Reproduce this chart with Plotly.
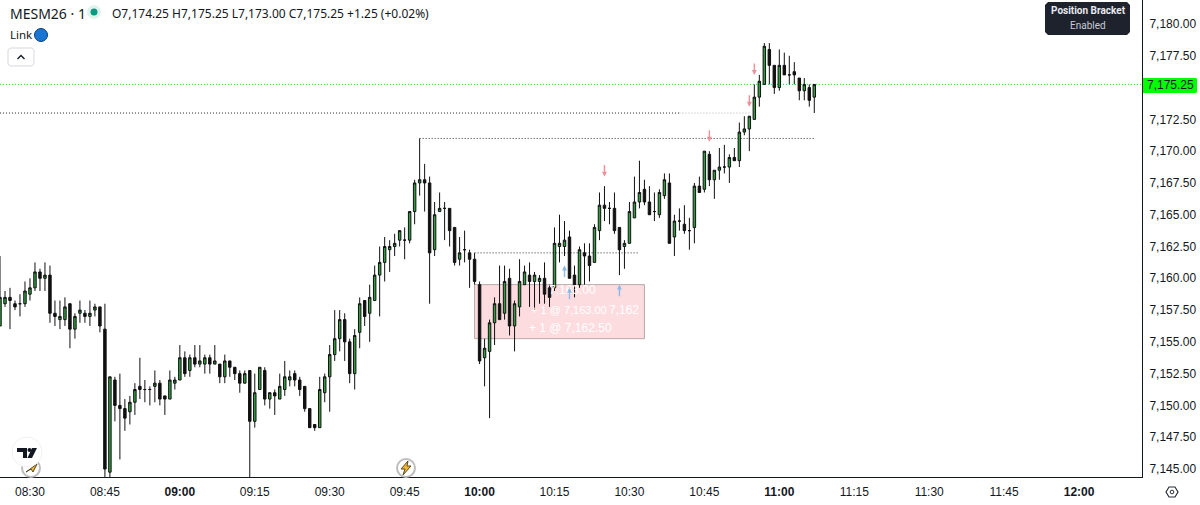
import pandas as pd
import plotly.graph_objects as go

# one candle per minute, starts 08:24
opens = [
    7156.25, 7158, 7158.5, 7158, 7158, 7158, 7158.75, 7159.25, 7160.5, 7160,
    7160.25, 7157.25, 7156.75, 7156.75, 7158, 7156, 7157.25, 7157.25, 7157, 7157.5,
    7157.75, 7156, 7144.75, 7152, 7150, 7149.75, 7149.5, 7150.25, 7151.5, 7151.25,
    7151.25, 7151.5, 7151.75, 7150.75, 7150.5, 7151.75, 7152, 7153.75, 7152.75, 7153.75,
    7153.25, 7153.25, 7153.75, 7153.25, 7153.25, 7152.25, 7153.5, 7153, 7152.5, 7151.75,
    7152.75, 7148.75, 7151.25, 7152.75, 7150.5, 7151, 7150.5, 7151.25, 7152, 7152.5,
    7152, 7151.5, 7149.75, 7148.5, 7148.25, 7151, 7152.25, 7154, 7155.25, 7156.75,
    7155, 7152.5, 7155.75, 7158.25, 7157.25, 7158.25, 7160.25, 7161.25, 7162.25, 7162.5,
    7163, 7163, 7163, 7165.25, 7167.5, 7167.75, 7167.5, 7162.25, 7165.25, 7165.5,
    7165.5, 7164, 7161.5, 7162.25, 7162, 7161.5, 7159.5, 7153.75, 7154.25, 7156.5,
    7158, 7157.25, 7160, 7156.25, 7157.75, 7159.5, 7160.25, 7159.75, 7159.75, 7160,
    7159.25, 7159.25, 7162.5, 7162.5, 7163.25, 7160.25, 7159.5, 7162, 7161.75, 7161.25,
    7163.75, 7165.75, 7165.5, 7165.5, 7164, 7162.5, 7162.75, 7164.75, 7166, 7167,
    7166, 7165.25, 7165, 7166.5, 7167.5, 7163.25, 7164.5, 7164.25, 7163.75, 7164,
    7167.25, 7167, 7169.75, 7167.75, 7168.5, 7168.75, 7168.75, 7169.5, 7169.25, 7171.5,
    7171.75, 7172.5, 7174.25, 7175.25, 7178, 7176.75, 7175, 7176.75, 7176, 7176.25,
    7175.75, 7174.75, 7175, 7174.25,
]
highs = [
    7161.75, 7159, 7159.25, 7158.25, 7158.75, 7159.75, 7160, 7161.25, 7160.75, 7161.25,
    7161, 7158.25, 7158.25, 7158.5, 7158, 7157.25, 7158.25, 7157.5, 7158.25, 7158,
    7157.75, 7158, 7152.25, 7152.25, 7152.5, 7150.5, 7150.75, 7151.75, 7153.75, 7152,
    7151.5, 7152.75, 7152, 7150.75, 7152.75, 7152.25, 7154.75, 7154.25, 7154, 7154.75,
    7154.75, 7154, 7154, 7154.75, 7153.25, 7154, 7153.5, 7153, 7152.75, 7152.75,
    7152.75, 7152.5, 7153, 7153, 7151, 7151.25, 7152.5, 7153.5, 7152.75, 7152.75,
    7152.25, 7151.5, 7149.75, 7148.5, 7152.25, 7152.5, 7154.75, 7157.5, 7157.5, 7157.25,
    7155.25, 7156, 7158.5, 7158.25, 7159.5, 7161, 7162.5, 7163.25, 7163, 7163.5,
    7163.75, 7164, 7165.25, 7167.75, 7171, 7169, 7168, 7166, 7166.75, 7166,
    7165.5, 7164, 7163.25, 7163.75, 7162.25, 7162, 7159.75, 7155.25, 7156.75, 7158.5,
    7161, 7161, 7160.75, 7158.25, 7161.5, 7161, 7161.25, 7160.5, 7160.25, 7161.25,
    7159.5, 7164, 7165, 7164.5, 7163.75, 7161, 7162.5, 7162.75, 7162.75, 7164.25,
    7166.75, 7167.25, 7166, 7166.75, 7164, 7163, 7166, 7168, 7169.25, 7167.75,
    7167.25, 7166.75, 7167, 7168.25, 7168.25, 7165, 7165.5, 7165.75, 7164.75, 7167.5,
    7168, 7170, 7170, 7168.5, 7170.25, 7170.5, 7169.75, 7170.25, 7172.25, 7172.75,
    7172.75, 7175.25, 7176, 7178.5, 7178.5, 7176.75, 7178, 7177.75, 7177.5, 7177,
    7175.75, 7175.75, 7175.25, 7175.25,
]
lows = [
    7156.25, 7157.75, 7156, 7157.5, 7157, 7157.75, 7158.25, 7159, 7159, 7159,
    7156.5, 7156.25, 7156, 7156.25, 7154.5, 7155.25, 7156.5, 7156.5, 7156.25, 7157,
    7155.75, 7144.25, 7144.25, 7148.75, 7145.75, 7148, 7148.5, 7149.25, 7150.5, 7150.25,
    7150, 7150.25, 7150, 7149.25, 7150.5, 7151.25, 7152, 7152.25, 7152.25, 7153,
    7153, 7152.5, 7152.5, 7153.25, 7151.75, 7151.75, 7152.25, 7152, 7151, 7151.75,
    7144.25, 7148.25, 7151.25, 7150, 7149.75, 7149.25, 7150.5, 7150.75, 7151.5, 7151.5,
    7150.75, 7149.5, 7148.25, 7148, 7148.25, 7150.25, 7149.5, 7153.5, 7154.25, 7153.5,
    7151.75, 7151.25, 7154.5, 7156.25, 7155, 7158.25, 7157, 7159.75, 7160.5, 7161.75,
    7162.5, 7161.5, 7162.75, 7164.25, 7166.5, 7165.25, 7158, 7161.75, 7165.25, 7163,
    7162.5, 7161, 7161, 7161.25, 7159.25, 7159.5, 7153.25, 7151.5, 7149, 7154.75,
    7156.75, 7156.75, 7155.5, 7154.25, 7157, 7159.5, 7157.75, 7157.5, 7158, 7158,
    7157.75, 7159, 7161.25, 7161.75, 7160, 7158.5, 7159.25, 7159.5, 7159.75, 7161.25,
    7163, 7164.5, 7164.25, 7163.5, 7160.25, 7160.75, 7162.75, 7164.75, 7165.5, 7165.75,
    7165, 7164.5, 7164.75, 7166.25, 7162.75, 7161.75, 7163.75, 7163.5, 7162.25, 7162.75,
    7166.75, 7166.75, 7167.25, 7166.25, 7167.75, 7168.25, 7167.5, 7169.25, 7168.75, 7171.25,
    7170, 7172.5, 7173.5, 7175.25, 7175.25, 7174.5, 7174.75, 7176, 7175.25, 7175.25,
    7174, 7174, 7173.5, 7173,
]
closes = [
    7158.5, 7158.5, 7158.25, 7157.75, 7158, 7159, 7159.25, 7160.5, 7160, 7160.25,
    7157.25, 7157, 7157, 7157.75, 7156, 7157, 7157.5, 7157, 7157.25, 7157.75,
    7156.25, 7145, 7152.25, 7150, 7149.75, 7149, 7150.25, 7151.25, 7151.25, 7151.25,
    7151.25, 7151.75, 7150.5, 7150.5, 7152, 7152, 7153.75, 7152.5, 7153.75, 7153.25,
    7153.5, 7153.75, 7153.25, 7153.5, 7152.25, 7153.5, 7153, 7152.5, 7151.75, 7152.5,
    7148.75, 7151, 7153, 7150.5, 7151, 7150.75, 7151.5, 7152.25, 7152.25, 7152,
    7151.25, 7149.75, 7148.25, 7148.25, 7151.25, 7152.25, 7154, 7155.25, 7156.75, 7155,
    7152.5, 7155.5, 7158, 7157, 7158.5, 7160.25, 7161.25, 7162.5, 7162.5, 7162.75,
    7163.75, 7163, 7165.25, 7167.5, 7167.75, 7167.5, 7162, 7165, 7165.5, 7165.5,
    7163.75, 7161.25, 7162, 7162.25, 7161.5, 7159.75, 7153.5, 7154.5, 7156.5, 7158,
    7156.75, 7159.75, 7156.25, 7158, 7159.75, 7160.5, 7159.75, 7160.25, 7160, 7158.75,
    7158.5, 7162.75, 7162.75, 7163, 7160, 7159.5, 7162.25, 7161.75, 7161, 7164,
    7165.75, 7165.5, 7165.5, 7163.75, 7162.25, 7162.75, 7165.25, 7166, 7166.75, 7166,
    7165, 7165.25, 7166.75, 7167.75, 7162.75, 7164.5, 7164.5, 7163.75, 7163.75, 7167.25,
    7166.75, 7170, 7167.75, 7168.5, 7168.75, 7168.75, 7169.5, 7169.25, 7171.5, 7171.75,
    7172.75, 7174.25, 7175.5, 7178.25, 7176.75, 7175, 7176.75, 7176, 7176, 7176,
    7174.75, 7175.25, 7174, 7175.25,
]

price_ticks = [7180, 7177.5, 7172.5, 7170, 7167.5, 7165, 7162.5, 7160, 7157.5, 7155, 7152.5, 7150, 7147.5, 7145]
price_labels = ["7,180.00", "7,177.50", "7,172.50", "7,170.00", "7,167.50", "7,165.00", "7,162.50",
                "7,160.00", "7,157.50", "7,155.00", "7,152.50", "7,150.00", "7,147.50", "7,145.00"]
time_ticks = ["08:30", "08:45", "09:00", "09:15", "09:30", "09:45", "10:00", "10:15",
              "10:30", "10:45", "11:00", "11:15", "11:30", "11:45", "12:00"]
time_labels = ["08:30", "08:45", "<b>09:00</b>", "09:15", "09:30", "09:45", "<b>10:00</b>", "10:15",
               "10:30", "10:45", "<b>11:00</b>", "11:15", "11:30", "11:45", "<b>12:00</b>"]

last_price = 7175.25
sell_times = ["10:25", "10:46", "10:54", "10:55"]
sell_prices = [7168, 7170.75, 7173.5, 7176]
buy_times = ["10:17", "10:18", "10:28"]
buy_prices = [7161, 7159.25, 7159.5]

DAY = "2026-04-08 "
PLOT_W = 1142
PLOT_H = 477
times = pd.date_range(DAY + "08:24", periods=len(opens), freq="min")


def px(x):
    return x / PLOT_W


def py(y):
    return 1 - y / PLOT_H


def label(text, x, y, size=12, color="#131722", family="Noto Sans", anchor="left"):
    return dict(text=text, x=px(x), y=py(y), xref="paper", yref="paper", showarrow=False,
                xanchor=anchor, yanchor="middle", font=dict(size=size, color=color, family=family))


def icon(path, fill, line="rgba(0,0,0,0)", width=1):
    return dict(type="path", path=path, xref="paper", yref="paper", fillcolor=fill,
                line=dict(color=line, width=width), layer="above")


def poly(points, closed=True):
    path = "M" + " L".join(f"{px(x):.5f},{py(y):.5f}" for x, y in points)
    return path + " Z" if closed else path


def circle(cx, cy, r, fill, line="rgba(0,0,0,0)", width=1):
    return dict(type="circle", xref="paper", yref="paper", x0=px(cx - r), x1=px(cx + r),
                y0=py(cy + r), y1=py(cy - r), fillcolor=fill, line=dict(color=line, width=width), layer="above")


def level(start, end, price, color="#2a2e39"):
    return dict(type="line", x0=DAY + start, x1=DAY + end, y0=price, y1=price, layer="below",
                line=dict(color=color, width=1, dash="1px,2px"))


fig = go.Figure(go.Candlestick(
    x=times, open=opens, high=highs, low=lows, close=closes,
    increasing=dict(line=dict(color="#111111", width=1), fillcolor="#2f9e3f"),
    decreasing=dict(line=dict(color="#111111", width=1), fillcolor="#111111"),
    whiskerwidth=0, showlegend=False,
))

shapes = [
    dict(type="rect", x0=DAY + "09:59:00", x1=DAY + "10:33:00", y0=7155.25, y1=7159.5, layer="below",
         fillcolor="#fcdcdf", line=dict(color="#b8a8a8", width=1)),
    level("08:24", "10:40", 7173),
    level("10:40", "10:54", 7173, "#b5b5b5"),
    level("09:48", "11:07", 7171),
    level("09:59", "10:32", 7162),
    dict(type="line", x0=0, x1=1, xref="paper", y0=last_price, y1=last_price, layer="below",
         line=dict(color="#22e622", width=1, dash="1px,2px")),
    # position bracket badge
    icon(poly([(1048, 2), (1127, 2), (1130, 5), (1130, 32), (1127, 35), (1048, 35), (1045, 32), (1045, 5)]), "#1e222d"),
    icon(poly([(1143, 78), (1196, 78), (1197, 79), (1197, 92), (1196, 93), (1143, 93)]), "#00ff00"),
    # toolbar bits
    circle(94, 12, 7, "#dff3ee"),
    circle(94, 12, 3.5, "#089981"),
    circle(41, 35, 6.5, "#1976d2", "#0d3f7a"),
    icon(poly([(10, 48), (32, 48), (34, 50), (34, 64), (32, 66), (10, 66), (8, 64), (8, 50)]), "#ffffff", "#d6d8de"),
    icon(poly([(17.5, 59), (21, 55.5), (24.5, 59)], closed=False), "rgba(0,0,0,0)", "#131722", 1.3),
    # lightning + replay icons along the bottom
    circle(31, 468, 9, "#ffffff", "#bdbdbd", 2),
    icon(poly([(26, 472), (37, 464), (33, 472), (31, 469)]), "#f2b632", "#5a4a20"),
    circle(27, 452, 15, "#ffffff", "#f1f1f1"),
    icon(poly([(17, 448), (27, 448), (27, 458), (23, 458), (23, 452), (17, 452)]), "#131722"),
    circle(29.5, 450, 2, "#131722"),
    icon(poly([(32, 448), (37, 448), (32, 458), (27.5, 458)]), "#131722"),
    circle(406, 468, 9, "#ffffff", "#bdbdbd", 2),
    icon(poly([(408, 461), (401, 469), (405, 469), (403, 475), (411, 466), (407, 466)]), "#f2b632", "#5a4a20"),
    # settings
    icon(poly([(1166, 492), (1169, 487), (1175, 487), (1178, 492), (1175, 497), (1169, 497)]), "#ffffff", "#2a2e39", 1.2),
    circle(1172, 492, 1.8, "#ffffff", "#2a2e39", 1),
]

annotations = [
    label("MESM26 · 1", 8, 13, 14),
    label("O7,174.25 H7,175.25 L7,173.00 C7,175.25 +1.25 (+0.02%)", 110, 13, 12),
    label("Link", 8, 34, 11.5),
    label("<b>Position Bracket</b>", 1088, 11, 10, "#e8eaf0", "Roboto", "center"),
    label("Enabled", 1088, 25, 10, "#c8ccd6", "Roboto", "center"),
    label("7,175.25", 1170, 85.5, 12, "#131722", "Liberation Sans", "center"),
    label("7,163.00", 598, 290, 12, "#ffffff", "Liberation Sans", "right"),
    label("+ 1 @ 7,163.00", 529, 310, 11, "#ffffff", "Liberation Sans"),
    label("7,162", 641, 310, 12, "#ffffff", "Liberation Sans", "right"),
    label("+ 1 @ 7,162.50", 527, 328, 12, "#ffffff", "Liberation Sans"),
]
for t, p in zip(sell_times, sell_prices):
    annotations.append(dict(x=DAY + t, y=p, ax=0, ay=-13, xref="x", yref="y", text="", showarrow=True,
                            arrowhead=2, arrowsize=0.7, arrowwidth=1.4, arrowcolor="#ee8f9a"))
for t, p in zip(buy_times, buy_prices):
    annotations.append(dict(x=DAY + t, y=p, ax=0, ay=13, xref="x", yref="y", text="", showarrow=True,
                            arrowhead=2, arrowsize=0.7, arrowwidth=1.4, arrowcolor="#8bb9e8"))

fig.update_layout(
    width=1200, height=505,
    margin=dict(l=0, r=58, t=0, b=28, pad=0),
    paper_bgcolor="white", plot_bgcolor="white",
    font=dict(family="Liberation Sans", size=12, color="#131722"),
    boxgap=0.3,
    shapes=shapes, annotations=annotations,
    xaxis=dict(
        type="date", rangeslider=dict(visible=False), showgrid=False, zeroline=False,
        range=[DAY + "08:24:00", DAY + "12:12:36"],
        tickvals=[DAY + t for t in time_ticks], ticktext=time_labels, tickangle=0,
        showline=True, linecolor="#131722", linewidth=1, ticks="outside", ticklen=4, tickcolor="rgba(0,0,0,0)",
    ),
    yaxis=dict(
        side="right", showgrid=False, zeroline=False, range=[7144.37, 7181.89],
        tickvals=price_ticks, ticktext=price_labels,
        showline=True, linecolor="#131722", linewidth=1, ticks="outside", ticklen=4, tickcolor="rgba(0,0,0,0)",
    ),
)

fig.write_html("out.html", config=dict(displayModeBar=False), post_script="document.body.style.margin='0';")
